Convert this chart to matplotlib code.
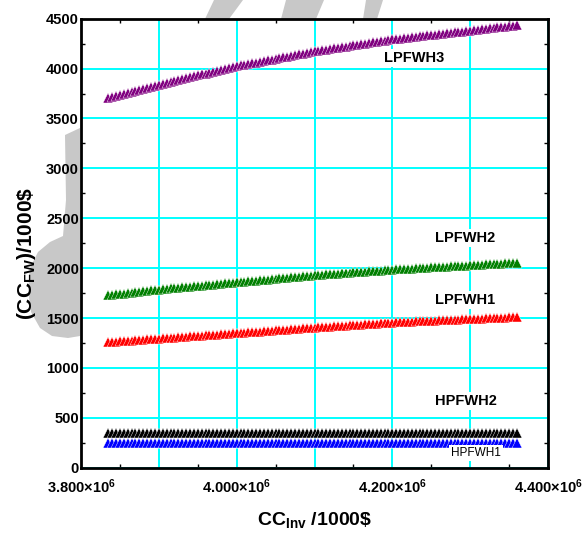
import matplotlib
matplotlib.use("Agg")
import matplotlib.pyplot as plt
from matplotlib.patches import Polygon
from matplotlib.ticker import FixedLocator, FuncFormatter

plt.rcParams.update({
    "font.family": ["Liberation Sans", "DejaVu Sans"],
    "font.weight": "bold",
    "mathtext.fontset": "custom",
    "mathtext.rm": "Liberation Sans:bold",
    "mathtext.it": "Liberation Sans:bold",
    "mathtext.bf": "Liberation Sans:bold",
    "mathtext.default": "rm",
})

W, H = 588, 535

# investment cost, 1000$ (x1000 on the axis)
cc_inv_k = [
    3835, 3840, 3845, 3850, 3855, 3860, 3865, 3870, 3875, 3880, 3885, 3890, 3895, 3900,
    3905, 3910, 3915, 3920, 3925, 3930, 3935, 3940, 3945, 3950,
    3955, 3960, 3965, 3970, 3975, 3980, 3985, 3990, 3995, 4000,
    4005, 4010, 4015, 4020, 4025, 4030, 4035, 4040, 4045, 4050,
    4055, 4060, 4065, 4070, 4075, 4080, 4085, 4090, 4095, 4100,
    4105, 4110, 4115, 4120, 4125, 4130, 4135, 4140, 4145, 4150,
    4155, 4160, 4165, 4170, 4175, 4180, 4185, 4190, 4195, 4200,
    4205, 4210, 4215, 4220, 4225, 4230, 4235, 4240, 4245, 4250,
    4255, 4260, 4265, 4270, 4275, 4280, 4285, 4290, 4295, 4300,
    4305, 4310, 4315, 4320, 4325, 4330, 4335, 4340, 4345, 4350, 4355, 4360,
]

lpfwh3 = [
    3708, 3718, 3728, 3738, 3748, 3758, 3768, 3778, 3789, 3799, 3809, 3819, 3829, 3839,
    3848, 3858, 3867, 3876, 3885, 3895, 3904, 3913, 3922, 3932,
    3941, 3950, 3959, 3969, 3978, 3987, 3996, 4006, 4015, 4024,
    4031, 4039, 4046, 4054, 4061, 4068, 4076, 4083, 4091, 4098,
    4105, 4113, 4120, 4128, 4135, 4142, 4150, 4157, 4165, 4172,
    4178, 4184, 4190, 4196, 4202, 4208, 4214, 4220, 4226, 4232,
    4238, 4244, 4250, 4256, 4262, 4268, 4274, 4280, 4286, 4292,
    4296, 4301, 4305, 4310, 4314, 4318, 4323, 4327, 4332, 4336,
    4340, 4345, 4349, 4354, 4358, 4362, 4367, 4371, 4376, 4380,
    4385, 4389, 4394, 4398, 4403, 4407, 4412, 4416, 4421, 4425, 4430, 4434,
]

lpfwh2 = [
    1727, 1731, 1736, 1740, 1745, 1749, 1754, 1758, 1763, 1767, 1772, 1776, 1781, 1785,
    1789, 1792, 1796, 1800, 1803, 1807, 1811, 1814, 1818, 1822,
    1825, 1829, 1832, 1836, 1840, 1843, 1847, 1851, 1854, 1858,
    1862, 1865, 1869, 1872, 1876, 1879, 1883, 1886, 1890, 1893,
    1897, 1900, 1904, 1907, 1911, 1914, 1918, 1921, 1925, 1928,
    1931, 1934, 1937, 1939, 1942, 1945, 1948, 1951, 1954, 1957,
    1959, 1962, 1965, 1968, 1971, 1974, 1976, 1979, 1982, 1985,
    1987, 1989, 1991, 1994, 1996, 1998, 2000, 2002, 2004, 2007,
    2009, 2011, 2013, 2015, 2017, 2019, 2022, 2024, 2026, 2028,
    2030, 2033, 2035, 2037, 2039, 2042, 2044, 2046, 2048, 2051, 2053, 2055,
]

lpfwh1 = [
    1258, 1261, 1263, 1266, 1269, 1271, 1274, 1277, 1280, 1282, 1285, 1288, 1290, 1293,
    1296, 1299, 1301, 1304, 1307, 1310, 1312, 1315, 1318, 1321,
    1323, 1326, 1329, 1332, 1334, 1337, 1340, 1343, 1345, 1348,
    1351, 1354, 1357, 1359, 1362, 1365, 1368, 1371, 1374, 1377,
    1379, 1382, 1385, 1388, 1391, 1394, 1396, 1399, 1402, 1405,
    1408, 1410, 1413, 1415, 1418, 1420, 1423, 1425, 1428, 1430,
    1433, 1435, 1438, 1440, 1443, 1445, 1448, 1450, 1453, 1455,
    1457, 1459, 1460, 1462, 1464, 1466, 1467, 1469, 1471, 1473,
    1474, 1476, 1478, 1480, 1481, 1483, 1485, 1487, 1488, 1490,
    1492, 1493, 1495, 1497, 1498, 1500, 1502, 1503, 1505, 1507, 1508, 1510,
]

hpfwh2 = [
    348, 348, 348, 348, 348, 348, 348, 348, 348, 348, 348, 348, 348, 348,
    347, 347, 347, 347, 347, 347, 347, 347, 347, 347,
    347, 347, 347, 347, 347, 347, 347, 347, 347, 347,
    346, 346, 346, 346, 346, 346, 346, 346, 346, 346,
    346, 346, 346, 346, 346, 346, 346, 346, 346, 346,
    345, 345, 345, 345, 345, 345, 345, 345, 345, 345,
    345, 345, 345, 345, 345, 345, 345, 345, 345, 345,
    344, 344, 344, 344, 344, 344, 344, 344, 344, 344,
    344, 344, 344, 344, 344, 344, 344, 344, 344, 344,
    343, 343, 343, 343, 343, 343, 343, 343, 343, 343, 343, 343,
]

hpfwh1 = [
    252, 252, 252, 252, 252, 252, 252, 252, 252, 252, 252, 252, 252, 252,
    251, 251, 251, 251, 251, 251, 251, 251, 251, 251,
    251, 251, 251, 251, 251, 251, 251, 251, 251, 251,
    250, 250, 250, 250, 250, 250, 250, 250, 250, 250,
    250, 250, 250, 250, 250, 250, 250, 250, 250, 250,
    250, 250, 250, 250, 250, 250, 250, 250, 250, 250,
    250, 250, 250, 250, 250, 250, 250, 250, 250, 250,
    249, 249, 249, 249, 249, 249, 249, 249, 249, 249,
    249, 249, 249, 249, 249, 249, 249, 249, 249, 249,
    248, 248, 248, 248, 248, 248, 248, 248, 248, 248, 248, 248,
]

series_names = ["LPFWH3", "LPFWH2", "LPFWH1", "HPFWH2", "HPFWH1"]
series_values = [lpfwh3, lpfwh2, lpfwh1, hpfwh2, hpfwh1]
series_colors = ["#800080", "#008000", "#ff0000", "#000000", "#0000ff"]

x_major = [3.8e6, 3.9e6, 4.0e6, 4.1e6, 4.2e6, 4.3e6, 4.4e6]
x_minor = [3.85e6, 3.95e6, 4.05e6, 4.15e6, 4.25e6, 4.35e6]
y_major = [0, 500, 1000, 1500, 2000, 2500, 3000, 3500, 4000, 4500]
y_minor = [250, 750, 1250, 1750, 2250, 2750, 3250, 3750, 4250]


def fig_xy(pts):
    return [(px / W, 1 - py / H) for px, py in pts]


fig = plt.figure(figsize=(W / 100, H / 100), dpi=100)

# grey background strokes behind the axes
for pts in [
    [(65, 135), (80, 128), (80, 336), (68, 338), (52, 336), (40, 328), (31, 312),
     (28, 290), (30, 268), (38, 252), (50, 242), (63, 236), (66, 200)],
    [(214, 0), (243, 0), (229, 19), (205, 19)],
    [(286, 0), (324, 0), (316, 19), (281, 19)],
    [(366, 0), (383, 0), (377, 19), (363, 19)],
]:
    fig.add_artist(Polygon(fig_xy(pts), closed=True, transform=fig.transFigure,
                           fc="#c8c8c8", ec="none", zorder=-1))

ax = fig.add_axes([81 / W, 1 - 467.7 / H, 467 / W, 449 / H])
ax.set_facecolor("white")

x_vals = [v * 1000 for v in cc_inv_k]
for vals, color in zip(series_values, series_colors):
    ax.plot(x_vals, vals, ls="none", marker="^", ms=7.0, mfc=color,
            mec="white", mew=0.3, zorder=3)

ax.set_xlim(3.8e6, 4.4e6)
ax.set_ylim(0, 4500)

ax.xaxis.set_major_locator(FixedLocator(x_major))
ax.xaxis.set_minor_locator(FixedLocator(x_minor))
ax.yaxis.set_major_locator(FixedLocator(y_major))
ax.yaxis.set_minor_locator(FixedLocator(y_minor))


def xfmt(v, _pos):
    if round(v / 1e5) % 2:
        return ""
    return f"{v / 1e6:.3f}×10$^{{6}}$"


ax.xaxis.set_major_formatter(FuncFormatter(xfmt))

ax.grid(True, which="major", color="#00ffff", lw=1.4, zorder=1)
ax.set_axisbelow(True)

ax.tick_params(which="both", direction="in", top=True, right=True)
ax.tick_params(which="major", length=0)
ax.tick_params(which="minor", length=3.2, width=1.0, color="black")
ax.tick_params(axis="y", which="major", pad=1.5, labelsize=10.5)
ax.tick_params(axis="x", which="major", pad=7, labelsize=10.5)
for lab in ax.get_xticklabels() + ax.get_yticklabels():
    lab.set_fontweight("bold")

for sp in ax.spines.values():
    sp.set_linewidth(2.0)
    sp.set_zorder(5)

box = dict(fc="white", ec="none", pad=1.5)
ax.text(4.228e6, 4106, "LPFWH3", ha="center", va="center", fontsize=10.5,
        fontweight="bold", bbox=box, zorder=4)
ax.text(4.293e6, 2302, "LPFWH2", ha="center", va="center", fontsize=10.5,
        fontweight="bold", bbox=box, zorder=4)
ax.text(4.293e6, 1681, "LPFWH1", ha="center", va="center", fontsize=10.5,
        fontweight="bold", bbox=box, zorder=4)
ax.text(4.295e6, 668, "HPFWH2", ha="center", va="center", fontsize=10.5,
        fontweight="bold", bbox=box, zorder=4)
ax.text(4.3075e6, 147, "HPFWH1", ha="center", va="center", fontsize=8.5,
        fontweight="normal", bbox=box, zorder=4)

ax.set_xlabel(r"CC$_{\rm Inv}$ /1000\$", fontsize=14, fontweight="bold")
ax.xaxis.set_label_coords(0.5, -0.095)
ax.set_ylabel(r"(CC$_{\rm FW}$)/1000\$", fontsize=15, fontweight="bold")
ax.yaxis.set_label_coords(-0.092, 0.478)

fig.savefig("out.png", dpi=100)
